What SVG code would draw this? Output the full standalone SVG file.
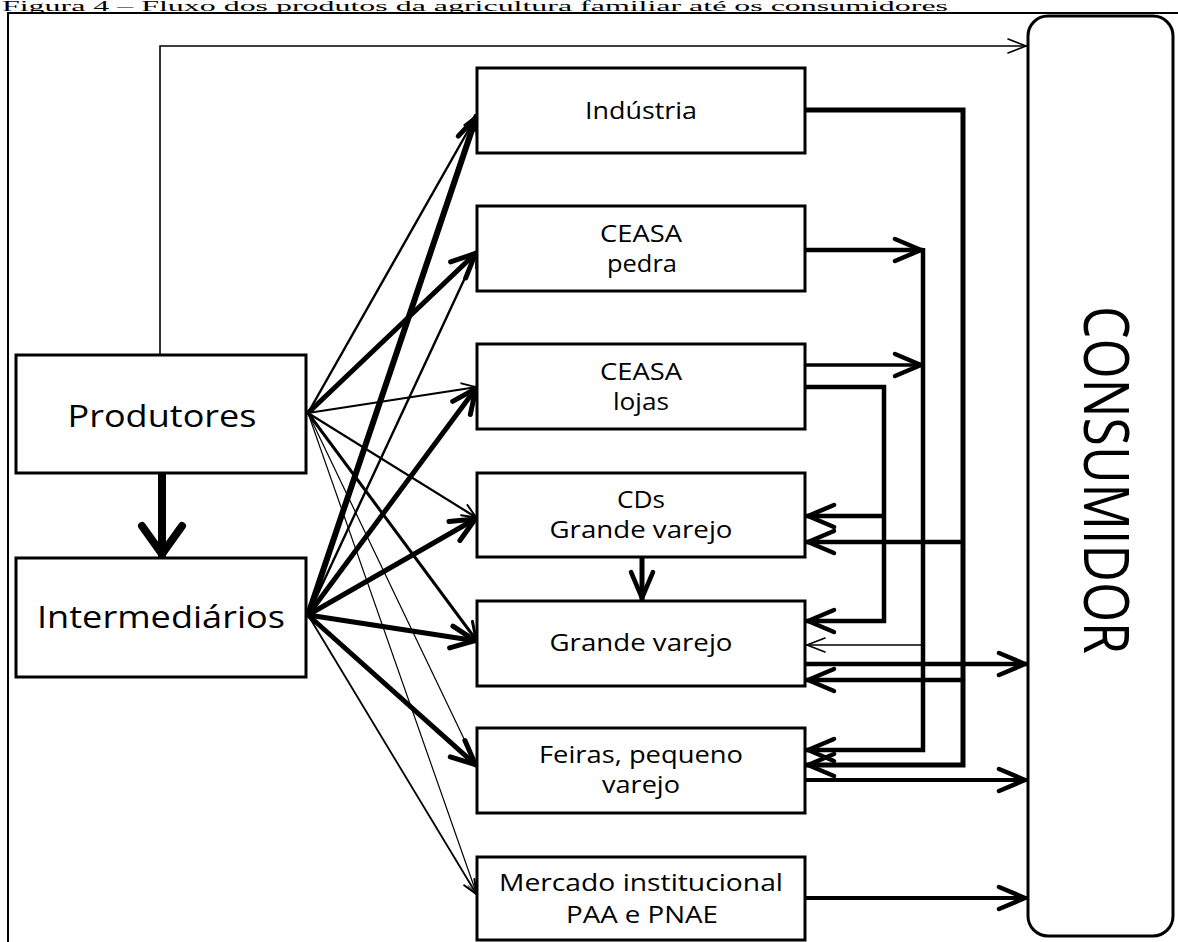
<svg xmlns="http://www.w3.org/2000/svg" width="1178" height="942" viewBox="0 0 1178 942">
<style>
.box{fill:#fff;stroke:#000;stroke-width:3}
.lbl{font-family:"Open Sans","Liberation Sans",sans-serif;fill:#000;text-anchor:middle}
.c{fill:none;stroke:#000;stroke-linecap:butt;stroke-linejoin:miter}
</style>
<defs>
<marker id="a8" markerUnits="userSpaceOnUse" viewBox="-40 -25 46 50" markerWidth="46" markerHeight="50" refX="3" refY="0" orient="auto" overflow="visible">
<path d="M-28,-20 L0,0 L-28,20" fill="none" stroke="#000" stroke-width="8" stroke-linecap="round" stroke-linejoin="round"/>
</marker>
<marker id="a5" markerUnits="userSpaceOnUse" viewBox="-30 -16 34 32" markerWidth="34" markerHeight="32" refX="2" refY="0" orient="auto" overflow="visible">
<path d="M-24,-11 L0,0 L-24,11" fill="none" stroke="#000" stroke-width="5" stroke-linecap="round" stroke-linejoin="round"/>
</marker>
<marker id="a3" markerUnits="userSpaceOnUse" viewBox="-20 -10 24 20" markerWidth="24" markerHeight="20" refX="1.5" refY="0" orient="auto" overflow="visible">
<path d="M-17,-8 L0,0 L-17,8" fill="none" stroke="#000" stroke-width="3" stroke-linecap="round" stroke-linejoin="round"/>
</marker>
<marker id="a2" markerUnits="userSpaceOnUse" viewBox="-18 -9 22 18" markerWidth="22" markerHeight="18" refX="1" refY="0" orient="auto" overflow="visible">
<path d="M-14,-6 L0,0 L-14,6" fill="none" stroke="#000" stroke-width="2" stroke-linecap="round" stroke-linejoin="round"/>
</marker>
<marker id="a1" markerUnits="userSpaceOnUse" viewBox="-14 -7 18 14" markerWidth="18" markerHeight="14" refX="0.5" refY="0" orient="auto" overflow="visible">
<path d="M-11,-5 L0,0 L-11,5" fill="none" stroke="#555" stroke-width="1.2" stroke-linecap="round" stroke-linejoin="round"/>
</marker>
<marker id="aR" markerUnits="userSpaceOnUse" viewBox="-32 -16 36 32" markerWidth="36" markerHeight="32" refX="2" refY="0" orient="auto" overflow="visible">
<path d="M-26,-11 L0,0 L-26,11" fill="none" stroke="#000" stroke-width="4.5" stroke-linecap="round" stroke-linejoin="round"/>
</marker>
<marker id="aT" markerUnits="userSpaceOnUse" viewBox="-22 -10 26 20" markerWidth="26" markerHeight="20" refX="1" refY="0" orient="auto" overflow="visible">
<path d="M-18,-7 L0,0 L-18,7" fill="none" stroke="#000" stroke-width="1.6" stroke-linecap="round" stroke-linejoin="round"/>
</marker>
</defs>

<rect width="1178" height="942" fill="#fff"/>
<text x="2" y="10.5" font-family="'Liberation Serif',serif" font-size="14" textLength="946" lengthAdjust="spacingAndGlyphs">Figura 4 – Fluxo dos produtos da agricultura familiar até os consumidores</text>
<rect x="8" y="13" width="1250" height="1000" fill="none" stroke="#000" stroke-width="2"/>

<g id="connectors">
<polyline class="c" points="160,355 160,46 1027,46" stroke-width="1.6" marker-end="url(#aT)"/>
<line class="c" x1="162" y1="473" x2="162" y2="557" stroke-width="8" marker-end="url(#a8)"/>

<line class="c" x1="308" y1="413" x2="477" y2="115" stroke-width="2.4" marker-end="url(#a2)"/>
<line class="c" x1="308" y1="413" x2="477" y2="252" stroke-width="5" marker-end="url(#a5)"/>
<line class="c" x1="308" y1="413" x2="477" y2="387" stroke-width="2.2" marker-end="url(#a2)"/>
<line class="c" x1="308" y1="413" x2="477" y2="518" stroke-width="2.2" marker-end="url(#a2)"/>
<line class="c" x1="308" y1="413" x2="477" y2="641" stroke-width="3" marker-end="url(#a3)"/>
<line class="c" x1="308" y1="413" x2="477" y2="766" stroke="#555" stroke-width="1.2" marker-end="url(#a1)"/>
<line class="c" x1="308" y1="413" x2="477" y2="895" stroke="#555" stroke-width="1.2" marker-end="url(#a1)"/>

<line class="c" x1="308" y1="615" x2="477" y2="115" stroke-width="6" marker-end="url(#a5)"/>
<line class="c" x1="308" y1="615" x2="477" y2="252" stroke-width="2.4" marker-end="url(#a2)"/>
<line class="c" x1="308" y1="615" x2="477" y2="387" stroke-width="5" marker-end="url(#a5)"/>
<line class="c" x1="308" y1="615" x2="477" y2="518" stroke-width="5" marker-end="url(#a5)"/>
<line class="c" x1="308" y1="615" x2="477" y2="641" stroke-width="5" marker-end="url(#a5)"/>
<line class="c" x1="308" y1="615" x2="477" y2="766" stroke-width="5" marker-end="url(#a5)"/>
<line class="c" x1="308" y1="615" x2="477" y2="895" stroke-width="1.8" marker-end="url(#a2)"/>

<line class="c" x1="642" y1="557" x2="642" y2="600" stroke-width="5" marker-end="url(#aR)"/>

<polyline class="c" points="805,110 963,110 963,765 806,765" stroke-width="5" marker-end="url(#aR)"/>
<line class="c" x1="963" y1="542" x2="806" y2="542" stroke-width="4.5" marker-end="url(#aR)"/>
<line class="c" x1="963" y1="680" x2="806" y2="680" stroke-width="4.5" marker-end="url(#aR)"/>

<line class="c" x1="805" y1="250" x2="923" y2="250" stroke-width="4.5" marker-end="url(#aR)"/>
<line class="c" x1="805" y1="365" x2="923" y2="365" stroke-width="3.5" marker-end="url(#aR)"/>
<polyline class="c" points="923,248 923,750 806,750" stroke-width="4.5" marker-end="url(#aR)"/>
<line class="c" x1="923" y1="645" x2="806" y2="645" stroke-width="1.6" marker-end="url(#aT)"/>

<polyline class="c" points="805,387 884,387 884,621 806,621" stroke-width="4.5" marker-end="url(#aR)"/>
<line class="c" x1="884" y1="516" x2="806" y2="516" stroke-width="4.5" marker-end="url(#aR)"/>

<line class="c" x1="805" y1="664" x2="1027" y2="664" stroke-width="4.5" marker-end="url(#aR)"/>
<line class="c" x1="805" y1="780" x2="1027" y2="780" stroke-width="4" marker-end="url(#aR)"/>
<line class="c" x1="805" y1="898" x2="1027" y2="898" stroke-width="4" marker-end="url(#aR)"/>
</g>

<g id="produtores">
<rect class="box" x="16" y="355" width="290" height="118"/>
<text class="lbl" x="162" y="427" font-size="31" textLength="189" lengthAdjust="spacingAndGlyphs">Produtores</text>
</g>
<g id="intermediarios">
<rect class="box" x="16" y="558" width="290" height="119"/>
<text class="lbl" x="161" y="628" font-size="31" textLength="248" lengthAdjust="spacingAndGlyphs">Intermediários</text>
</g>
<g id="industria">
<rect class="box" x="477" y="68" width="328" height="85"/>
<text class="lbl" x="641" y="119" font-size="24" textLength="112" lengthAdjust="spacingAndGlyphs">Indústria</text>
</g>
<g id="ceasa-pedra">
<rect class="box" x="477" y="206" width="328" height="85"/>
<text class="lbl" x="641" y="242" font-size="24" textLength="82" lengthAdjust="spacingAndGlyphs">CEASA</text>
<text class="lbl" x="642" y="272" font-size="24" textLength="70" lengthAdjust="spacingAndGlyphs">pedra</text>
</g>
<g id="ceasa-lojas">
<rect class="box" x="477" y="344" width="328" height="85"/>
<text class="lbl" x="641" y="380" font-size="24" textLength="82" lengthAdjust="spacingAndGlyphs">CEASA</text>
<text class="lbl" x="641" y="410" font-size="24" textLength="56" lengthAdjust="spacingAndGlyphs">lojas</text>
</g>
<g id="cds">
<rect class="box" x="477" y="473" width="328" height="84"/>
<text class="lbl" x="641" y="508" font-size="24" textLength="48" lengthAdjust="spacingAndGlyphs">CDs</text>
<text class="lbl" x="641" y="538" font-size="24" textLength="183" lengthAdjust="spacingAndGlyphs">Grande varejo</text>
</g>
<g id="grande-varejo">
<rect class="box" x="477" y="601" width="328" height="85"/>
<text class="lbl" x="641" y="651" font-size="24" textLength="183" lengthAdjust="spacingAndGlyphs">Grande varejo</text>
</g>
<g id="feiras">
<rect class="box" x="477" y="728" width="328" height="85"/>
<text class="lbl" x="641" y="763" font-size="24" textLength="204" lengthAdjust="spacingAndGlyphs">Feiras, pequeno</text>
<text class="lbl" x="641" y="793" font-size="24" textLength="78" lengthAdjust="spacingAndGlyphs">varejo</text>
</g>
<g id="mercado">
<rect class="box" x="477" y="857" width="328" height="83"/>
<text class="lbl" x="641" y="891" font-size="24" textLength="284" lengthAdjust="spacingAndGlyphs">Mercado institucional</text>
<text class="lbl" x="642" y="923" font-size="24" textLength="152" lengthAdjust="spacingAndGlyphs">PAA e PNAE</text>
</g>
<g id="consumidor">
<rect x="1028" y="16" width="145" height="920" rx="20" ry="20" fill="#fff" stroke="#000" stroke-width="3"/>
<text class="lbl" transform="translate(1084,480) rotate(90)" x="0" y="0" font-size="62" textLength="348" lengthAdjust="spacingAndGlyphs">CONSUMIDOR</text>
</g>
</svg>
